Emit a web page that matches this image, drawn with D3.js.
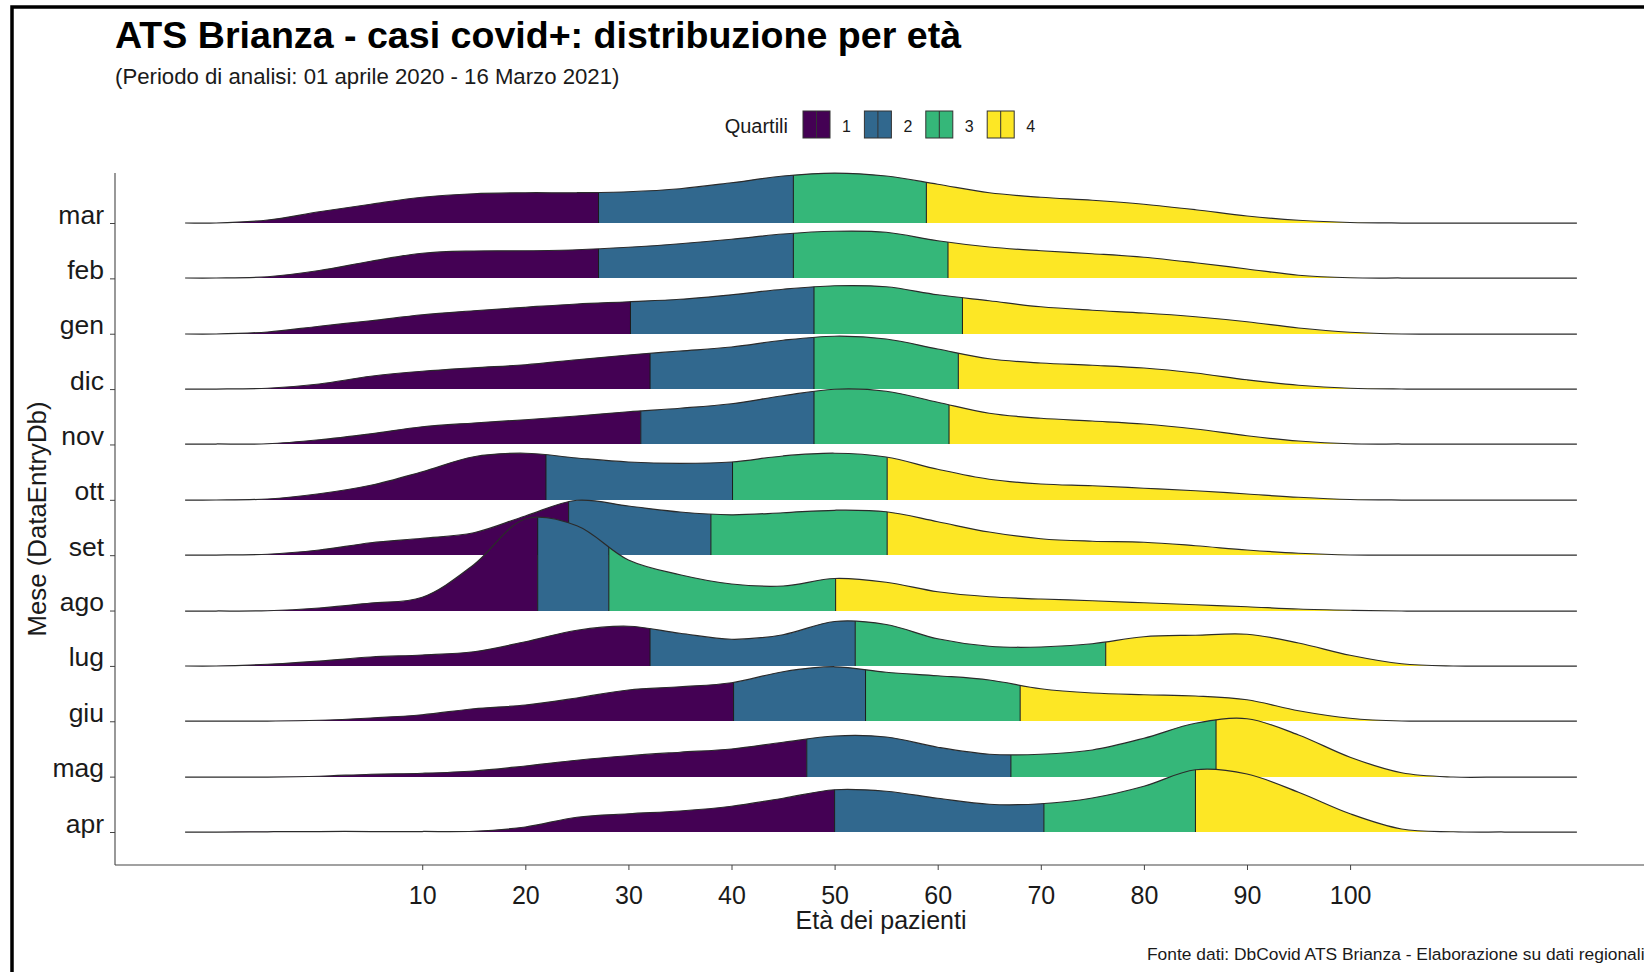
<!DOCTYPE html>
<meta charset="utf-8">
<style>
    body { margin: 0; background: #fff; }
    svg text { font-family: "Liberation Sans", Arial, sans-serif; fill: #1a1a1a; }
</style>

<svg width="1644" height="972"></svg>
<script src="https://cdn.jsdelivr.net/npm/d3@7"></script>

<script>
    // months, bottom row first (as on the y axis)
    var months = ["apr", "mag", "giu", "lug", "ago", "set", "ott", "nov", "dic", "gen", "feb", "mar"];

    // age grid of the density estimates (years)
    var ages = [-10, -5, 0, 5, 10, 15, 20, 25, 30, 35, 40, 45, 50, 55, 60, 65, 70, 75, 80, 85, 90, 95, 100, 105, 110, 115];
    // range where the density lines are drawn
    var densRange = [-13, 122];

    // densities (% of cases per year of age)
    var apr = [0, 0.01, 0.02, 0.02, 0.02, 0.03, 0.2, 0.59, 0.73, 0.84, 1.03, 1.35, 1.69, 1.63, 1.35, 1.11, 1.13, 1.36, 1.83, 2.49, 2.32, 1.59, 0.73, 0.12, 0.01, 0];
    var mag = [0, 0, 0.03, 0.11, 0.15, 0.24, 0.44, 0.67, 0.85, 0.99, 1.12, 1.39, 1.64, 1.6, 1.19, 0.91, 0.91, 1.08, 1.55, 2.15, 2.33, 1.68, 0.79, 0.17, 0, 0];
    var giu = [0, 0, 0.03, 0.12, 0.25, 0.49, 0.64, 0.92, 1.24, 1.37, 1.53, 1.97, 2.17, 1.95, 1.81, 1.64, 1.29, 1.12, 1.05, 1.0, 0.85, 0.41, 0.11, 0, 0, 0];
    var lug = [0, 0.07, 0.2, 0.36, 0.44, 0.57, 0.97, 1.43, 1.59, 1.31, 1.07, 1.25, 1.78, 1.66, 1.09, 0.79, 0.76, 0.89, 1.17, 1.23, 1.27, 0.92, 0.43, 0.09, 0, 0];
    var ago = [0, 0.01, 0.12, 0.32, 0.55, 1.85, 3.68, 3.41, 2.04, 1.45, 1.08, 1.0, 1.3, 1.15, 0.77, 0.57, 0.48, 0.41, 0.33, 0.25, 0.17, 0.08, 0.03, 0, 0, 0];
    var set = [0, 0.03, 0.2, 0.49, 0.67, 0.89, 1.56, 2.19, 1.96, 1.72, 1.61, 1.69, 1.79, 1.73, 1.33, 0.92, 0.65, 0.55, 0.51, 0.37, 0.2, 0.07, 0, 0, 0, 0];
    var ott = [0, 0.04, 0.25, 0.59, 1.13, 1.73, 1.87, 1.68, 1.52, 1.47, 1.52, 1.76, 1.87, 1.72, 1.23, 0.83, 0.64, 0.57, 0.47, 0.37, 0.24, 0.11, 0.02, 0, 0, 0];
    var nov = [0, 0.01, 0.17, 0.41, 0.69, 0.84, 0.97, 1.12, 1.29, 1.43, 1.61, 1.93, 2.19, 2.11, 1.67, 1.23, 1.03, 0.92, 0.8, 0.6, 0.33, 0.12, 0.01, 0, 0, 0];
    var dic = [0, 0.03, 0.2, 0.51, 0.71, 0.85, 0.97, 1.17, 1.36, 1.52, 1.68, 1.95, 2.11, 2.0, 1.6, 1.21, 1.04, 0.95, 0.84, 0.64, 0.37, 0.15, 0.03, 0, 0, 0];
    var gen = [0, 0.08, 0.31, 0.53, 0.77, 0.93, 1.07, 1.2, 1.29, 1.39, 1.57, 1.79, 1.93, 1.89, 1.57, 1.33, 1.09, 0.95, 0.84, 0.69, 0.49, 0.24, 0.07, 0, 0, 0];
    var feb = [0, 0.05, 0.3, 0.67, 0.99, 1.08, 1.09, 1.13, 1.23, 1.37, 1.55, 1.76, 1.87, 1.83, 1.49, 1.24, 1.09, 0.97, 0.83, 0.61, 0.36, 0.11, 0.01, 0, 0, 0];
    var mar = [0, 0.12, 0.45, 0.75, 1.03, 1.17, 1.21, 1.21, 1.25, 1.37, 1.61, 1.88, 2.0, 1.88, 1.55, 1.21, 1.03, 0.91, 0.75, 0.53, 0.28, 0.11, 0.02, 0, 0, 0];

    // quartile cut points (age) per month
    var q_apr = [50.0, 70.3, 85.0];
    var q_mag = [47.3, 67.1, 87.0];
    var q_giu = [40.2, 53.0, 68.0];
    var q_lug = [32.1, 52.0, 76.3];
    var q_ago = [21.2, 28.1, 50.1];
    var q_set = [24.2, 38.0, 55.1];
    var q_ott = [22.0, 40.1, 55.1];
    var q_nov = [31.2, 48.0, 61.1];
    var q_dic = [32.1, 48.0, 62.0];
    var q_gen = [30.2, 48.0, 62.4];
    var q_feb = [27.1, 46.0, 61.0];
    var q_mar = [27.1, 46.0, 58.9];

    var xTicks = [10, 20, 30, 40, 50, 60, 70, 80, 90, 100];
    var quartLabels = ["1", "2", "3", "4"];
    var colors = ["#440154", "#31688E", "#35B779", "#FDE725"];

    var dens = { apr: apr, mag: mag, giu: giu, lug: lug, ago: ago, set: set, ott: ott, nov: nov, dic: dic, gen: gen, feb: feb, mar: mar };
    var quart = { apr: q_apr, mag: q_mag, giu: q_giu, lug: q_lug, ago: q_ago, set: q_set, ott: q_ott, nov: q_nov, dic: q_dic, gen: q_gen, feb: q_feb, mar: q_mar };

    var svg = d3.select("svg"),
        width = +svg.attr("width"),
        height = +svg.attr("height");

    var x = d3.scaleLinear().domain([-19.8, 128.8]).range([115, 1647]);
    var y = d3.scalePoint().domain(months).range([832, 223]);
    var h = d3.scaleLinear().domain([0, 1]).range([0, 25]);

    // outer frame
    svg.append("rect")
        .attr("x", 12).attr("y", 7)
        .attr("width", width).attr("height", height)
        .attr("fill", "none").attr("stroke", "#000").attr("stroke-width", 3.5);

    // titles
    svg.append("text").attr("x", 115).attr("y", 48)
        .style("font-size", "37.6px").style("font-weight", "bold").style("fill", "#000")
        .text("ATS Brianza - casi covid+: distribuzione per età");
    svg.append("text").attr("x", 115).attr("y", 84)
        .style("font-size", "22.2px")
        .text("(Periodo di analisi: 01 aprile 2020 - 16 Marzo 2021)");

    // legend
    var legend = svg.append("g");
    legend.append("text").attr("x", 788).attr("y", 133)
        .attr("text-anchor", "end").style("font-size", "20px").text("Quartili");
    var key = legend.selectAll(".key").data(quartLabels).enter().append("g")
        .attr("transform", function (d, i) { return "translate(" + (803 + i * 61.4) + ",111)"; });
    key.append("rect").attr("width", 27).attr("height", 27)
        .attr("fill", function (d, i) { return colors[i]; })
        .attr("stroke", "#333").attr("stroke-width", 1);
    key.append("line").attr("x1", 13.5).attr("x2", 13.5).attr("y1", 0).attr("y2", 27)
        .attr("stroke", "#333").attr("stroke-width", 1);
    key.append("text").attr("x", 39).attr("y", 21).style("font-size", "16px").text(function (d) { return d; });

    // ridges, top row first so the lower rows overlap the upper ones
    var defs = svg.append("defs");
    var plot = svg.append("g");
    var curve = d3.curveCatmullRom.alpha(0.5);

    months.slice().reverse().forEach(function (m) {
        var base = Math.round(y(m));
        var pts = [[densRange[0], 0]]
            .concat(ages.map(function (a, j) { return [a, dens[m][j]]; }))
            .concat([[densRange[1], 0]]);
        var area = d3.area().curve(curve)
            .x(function (d) { return x(d[0]); })
            .y0(base)
            .y1(function (d) { return base - h(d[1]); });
        var line = d3.line().curve(curve)
            .x(function (d) { return x(d[0]); })
            .y(function (d) { return base - h(d[1]); });

        var g = plot.append("g");
        var cuts = [densRange[0]].concat(quart[m]).concat([densRange[1]]);
        for (var q = 0; q < 4; q++) {
            defs.append("clipPath").attr("id", "c-" + m + q)
                .append("rect")
                .attr("x", x(cuts[q])).attr("width", x(cuts[q + 1]) - x(cuts[q]))
                .attr("y", base - 160).attr("height", 160);
            g.append("path").attr("d", area(pts))
                .attr("fill", colors[q])
                .attr("clip-path", "url(#c-" + m + q + ")");
        }
        defs.append("clipPath").attr("id", "s-" + m).append("path").attr("d", area(pts));
        g.selectAll(".qline").data(quart[m]).enter().append("line")
            .attr("x1", function (d) { return x(d); }).attr("x2", function (d) { return x(d); })
            .attr("y1", base).attr("y2", base - 160)
            .attr("stroke", "#1a1a1a").attr("stroke-width", 1)
            .attr("clip-path", "url(#s-" + m + ")");
        g.append("path").attr("d", line(pts))
            .attr("fill", "none").attr("stroke", "#2b2b2b").attr("stroke-width", 1.25);
    });

    // axes
    svg.append("line").attr("x1", 115).attr("x2", 115).attr("y1", 173).attr("y2", 865)
        .attr("stroke", "#444").attr("stroke-width", 1.1);
    svg.append("line").attr("x1", 115).attr("x2", width).attr("y1", 865).attr("y2", 865)
        .attr("stroke", "#444").attr("stroke-width", 1.1);

    var xAxis = svg.append("g").attr("transform", "translate(0,865)")
        .call(d3.axisBottom(x).tickValues(xTicks).tickSize(5).tickPadding(16));
    xAxis.select(".domain").remove();
    xAxis.selectAll(".tick line").attr("stroke", "#444");
    xAxis.selectAll(".tick text").style("font-size", "25px").attr("fill", "#1a1a1a");

    var yAxis = svg.append("g").attr("transform", "translate(115,0)")
        .call(d3.axisLeft(y).tickSize(5).tickPadding(6));
    yAxis.select(".domain").remove();
    yAxis.selectAll(".tick line").attr("stroke", "#444");
    yAxis.selectAll(".tick text").attr("dy", 0).style("font-size", "26.5px").attr("fill", "#1a1a1a");

    // axis titles and caption
    svg.append("text").attr("x", 881).attr("y", 929).attr("text-anchor", "middle")
        .style("font-size", "25px").text("Età dei pazienti");
    svg.append("text").attr("transform", "translate(46,519) rotate(-90)").attr("text-anchor", "middle")
        .style("font-size", "25.8px").text("Mese (DataEntryDb)");
    svg.append("text").attr("x", 1147).attr("y", 960)
        .style("font-size", "17.4px")
        .text("Fonte dati: DbCovid ATS Brianza - Elaborazione su dati regionali");
</script>
